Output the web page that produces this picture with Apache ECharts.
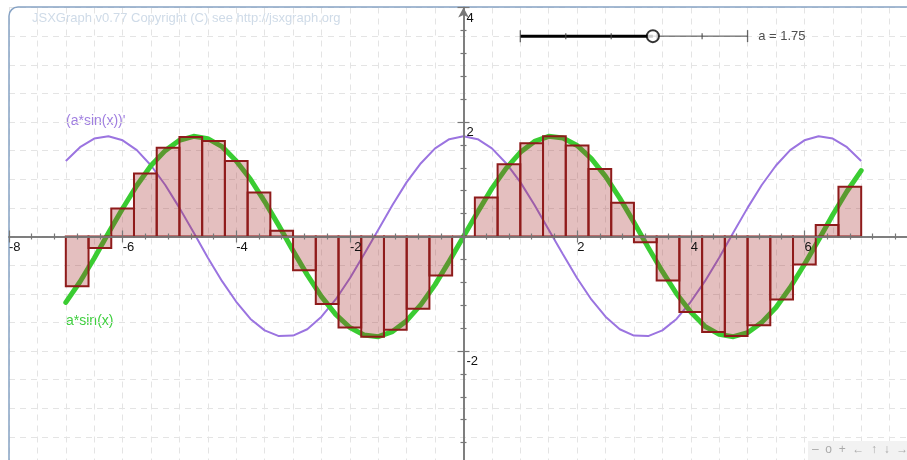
<!DOCTYPE html>
<html>
<head>
<meta charset="utf-8">
<script src="https://cdn.jsdelivr.net/npm/echarts@6/dist/echarts.min.js"></script>
<style>
  html, body { margin: 0; padding: 0; background: #fff; }
  #chart { width: 907px; height: 460px; }
</style>
</head>
<body>
<div id="chart"></div>
<script>
// slider value and its range
const a = 1.75;
const sliderRange = [0, 3];
const sliderFrom = [1, 3.5];
const sliderTo = [5, 3.5];
const sliderTicks = [1, 1.8, 2.6, 3.4, 4.2, 5];

// curves
const curveX = [-7, -6.75, -6.5, -6.25, -6, -5.75, -5.5, -5.25, -5, -4.75, -4.5, -4.25, -4, -3.75, -3.5, -3.25,
  -3, -2.75, -2.5, -2.25, -2, -1.75, -1.5, -1.25, -1, -0.75, -0.5, -0.25, 0,
  0.25, 0.5, 0.75, 1, 1.25, 1.5, 1.75, 2, 2.25, 2.5, 2.75, 3, 3.25, 3.5, 3.75,
  4, 4.25, 4.5, 4.75, 5, 5.25, 5.5, 5.75, 6, 6.25, 6.5, 6.75, 7];
const sinValues = [-1.15, -0.79, -0.38, 0.06, 0.49, 0.89, 1.24, 1.50, 1.68, 1.75, 1.71, 1.57, 1.32, 1.00, 0.61, 0.19,
  -0.25, -0.67, -1.05, -1.36, -1.59, -1.72, -1.75, -1.66, -1.47, -1.19, -0.84, -0.43, 0,
  0.43, 0.84, 1.19, 1.47, 1.66, 1.75, 1.72, 1.59, 1.36, 1.05, 0.67, 0.25, -0.19, -0.61, -1.00,
  -1.32, -1.57, -1.71, -1.75, -1.68, -1.50, -1.24, -0.89, -0.49, -0.06, 0.38, 0.79, 1.15];
const derivValues = [1.32, 1.56, 1.71, 1.75, 1.68, 1.51, 1.24, 0.90, 0.50, 0.07, -0.37, -0.78, -1.14, -1.44, -1.64, -1.74,
  -1.73, -1.62, -1.40, -1.10, -0.73, -0.31, 0.12, 0.55, 0.95, 1.28, 1.54, 1.70, 1.75,
  1.70, 1.54, 1.28, 0.95, 0.55, 0.12, -0.31, -0.73, -1.10, -1.40, -1.62, -1.73, -1.74, -1.64, -1.44,
  -1.14, -0.78, -0.37, 0.07, 0.50, 0.90, 1.24, 1.51, 1.68, 1.75, 1.71, 1.56, 1.32];

// riemann sum boxes (midpoints and heights)
const barWidth = 0.4;
const barMids = [-6.8, -6.4, -6.0, -5.6, -5.2, -4.8, -4.4, -4.0, -3.6, -3.2, -2.8, -2.4, -2.0, -1.6, -1.2, -0.8, -0.4,
  0, 0.4, 0.8, 1.2, 1.6, 2.0, 2.4, 2.8, 3.2, 3.6, 4.0, 4.4, 4.8, 5.2, 5.6, 6.0, 6.4, 6.8];
const barHeights = [-0.87, -0.20, 0.49, 1.10, 1.55, 1.74, 1.67, 1.32, 0.77, 0.10, -0.59, -1.18, -1.59, -1.75, -1.63, -1.26, -0.68,
  0, 0.68, 1.26, 1.63, 1.75, 1.59, 1.18, 0.59, -0.10, -0.77, -1.32, -1.67, -1.74, -1.55, -1.10, -0.49, 0.20, 0.87];

const FONT = '"Liberation Sans", Arial, sans-serif';
const AXIS_COLOR = '#777';
const X_RANGE = [-8, 8];
const Y_RANGE = [-4, 4];
const GRID = { left: 9, top: 7.5, width: 909, height: 458, containLabel: false, outerBoundsMode: 'none' };

// distance from grid edge to the zero line, used to put the axes through the origin
const xZeroShift = GRID.height * (0 - Y_RANGE[0]) / (Y_RANGE[1] - Y_RANGE[0]);
const yZeroShift = GRID.width * (0 - X_RANGE[0]) / (X_RANGE[1] - X_RANGE[0]);

const pos = (sliderTo[0] - sliderFrom[0]) * (a - sliderRange[0]) / (sliderRange[1] - sliderRange[0]) + sliderFrom[0];

function mainAxis(dim, position, withLabels) {
  const isX = dim === 'x';
  const range = isX ? X_RANGE : Y_RANGE;
  const shift = isX ? (position === 'bottom' ? xZeroShift : GRID.height - xZeroShift)
                    : (position === 'left' ? yZeroShift : GRID.width - yZeroShift);
  return {
    gridIndex: 0,
    type: 'value',
    position: position,
    offset: -shift,
    min: range[0],
    max: range[1],
    interval: 2,
    z: 4,
    axisLine: {
      onZero: false,
      symbol: withLabels ? ['none', 'arrow'] : 'none',
      symbolSize: [8, 10],
      lineStyle: { color: AXIS_COLOR, width: 1.5 }
    },
    axisTick: { show: true, inside: false, length: 6, lineStyle: { color: AXIS_COLOR, width: 1.2 } },
    minorTick: { show: true, splitNumber: 5, length: 3, lineStyle: { color: AXIS_COLOR, width: 1.2 } },
    splitLine: { show: false },
    axisLabel: withLabels ? {
      show: true,
      inside: !isX,
      margin: isX ? 4 : 3,
      align: 'left',
      verticalAlign: 'top',
      padding: isX ? 0 : [4, 0, 0, 0],
      color: '#111',
      fontFamily: FONT,
      fontSize: 13,
      showMaxLabel: true,
      showMinLabel: true,
      formatter: v => (v === 0 ? '' : String(v))
    } : { show: false }
  };
}

function gridAxis(dim) {
  const isX = dim === 'x';
  const range = isX ? X_RANGE : Y_RANGE;
  return {
    gridIndex: 1,
    type: 'value',
    min: range[0],
    max: range[1],
    interval: 0.5,
    z: 0,
    axisLine: { show: false },
    axisTick: { show: false },
    axisLabel: { show: false },
    splitLine: { show: true, lineStyle: { color: '#e4e4e4', type: [6, 5], width: 1 } }
  };
}

const chart = echarts.init(document.getElementById('chart'));
chart.setOption({
  animation: false,
  backgroundColor: '#fff',
  grid: [Object.assign({}, GRID), Object.assign({}, GRID)],
  xAxis: [mainAxis('x', 'bottom', true), mainAxis('x', 'top', false), gridAxis('x')],
  yAxis: [mainAxis('y', 'left', true), mainAxis('y', 'right', false), gridAxis('y')],
  graphic: [
    {
      type: 'rect', silent: true, z: 1,
      shape: { x: 9, y: 7, width: 1000, height: 1000, r: 9 },
      style: { fill: 'none', stroke: '#87a3c4', lineWidth: 1.5 }
    },
    {
      type: 'text', silent: true, left: 32, top: 12,
      style: { text: 'JSXGraph v0.77 Copyright (C) see http://jsxgraph.org', fill: '#cfdbe8', font: '13px ' + FONT }
    },
    {
      type: 'text', silent: true, left: 66, top: 114,
      style: { text: "(a*sin(x))'", fill: '#a07fe0', font: '14px ' + FONT }
    },
    {
      type: 'text', silent: true, left: 66, top: 314,
      style: { text: 'a*sin(x)', fill: '#3fcf3f', font: '14px ' + FONT }
    },
    {
      type: 'rect', silent: true, z: 1,
      shape: { x: 808, y: 441, width: 110, height: 30 },
      style: { fill: '#f2f2f2' }
    },
    {
      type: 'text', silent: true, left: 812, top: 444, z: 2,
      style: { text: '\u2013  o  +  \u2190  \u2191  \u2193  \u2192', fill: '#aaa', font: '12px ' + FONT }
    }
  ],
  series: [
    {
      name: "(a*sin(x))'",
      type: 'line',
      xAxisIndex: 0, yAxisIndex: 0,
      data: curveX.map((x, i) => [x, derivValues[i]]),
      showSymbol: false,
      z: 2,
      lineStyle: { color: '#9b74e0', width: 2 }
    },
    {
      name: 'a*sin(x)',
      type: 'line',
      xAxisIndex: 0, yAxisIndex: 0,
      data: curveX.map((x, i) => [x, sinValues[i]]),
      showSymbol: false,
      z: 2,
      lineStyle: { color: '#3acc32', width: 5, join: 'round', cap: 'round' }
    },
    {
      name: 'riemann',
      type: 'custom',
      xAxisIndex: 0, yAxisIndex: 0,
      z: 3,
      data: barMids.map((m, i) => [m, barHeights[i]]),
      encode: { x: 0, y: 1 },
      renderItem: (params, api) => {
        const m = api.value(0), h = api.value(1);
        const p0 = api.coord([m - barWidth / 2, 0]);
        const p1 = api.coord([m + barWidth / 2, h]);
        return {
          type: 'rect',
          shape: { x: p0[0], y: Math.min(p0[1], p1[1]), width: p1[0] - p0[0], height: Math.abs(p1[1] - p0[1]) },
          style: { fill: 'rgba(165,42,42,0.3)', stroke: '#8f1b1b', lineWidth: 2 }
        };
      }
    },
    {
      name: 'slider track',
      type: 'line',
      xAxisIndex: 0, yAxisIndex: 0,
      data: [sliderFrom, sliderTo],
      showSymbol: false,
      z: 6,
      lineStyle: { color: '#444', width: 1 }
    },
    {
      name: 'slider fill',
      type: 'line',
      xAxisIndex: 0, yAxisIndex: 0,
      data: [sliderFrom, [pos, sliderFrom[1]]],
      showSymbol: false,
      z: 7,
      lineStyle: { color: '#000', width: 3 }
    },
    {
      name: 'slider ticks',
      type: 'scatter',
      xAxisIndex: 0, yAxisIndex: 0,
      z: 7,
      data: sliderTicks.map((t, i) => ({
        value: [t, sliderFrom[1]],
        symbolSize: (i === 0 || i === sliderTicks.length - 1) ? [1.3, 12] : [1.3, 6],
        label: i === sliderTicks.length - 1 ? {
          show: true, position: 'right', distance: 10,
          formatter: 'a = ' + a, color: '#222', fontFamily: FONT, fontSize: 13
        } : { show: false }
      })),
      symbol: 'rect',
      itemStyle: { color: '#444' }
    },
    {
      name: 'slider point',
      type: 'scatter',
      xAxisIndex: 0, yAxisIndex: 0,
      z: 8,
      data: [[pos, sliderFrom[1]]],
      symbol: 'circle',
      symbolSize: 12,
      itemStyle: { color: '#fff', borderColor: '#000', borderWidth: 2 }
    }
  ]
});
</script>
</body>
</html>
